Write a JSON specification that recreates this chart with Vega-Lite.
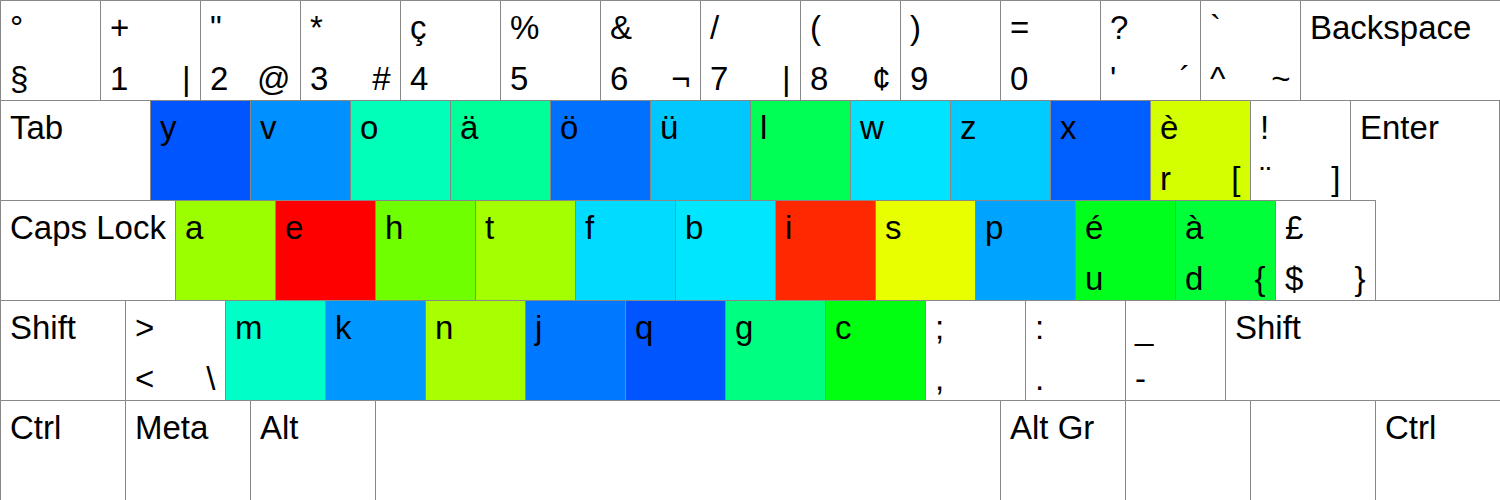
{
  "$schema": "https://vega.github.io/schema/vega-lite/v6.json",
  "width": 1499,
  "height": 499,
  "autosize": "none",
  "padding": {"left": 0, "top": 0, "right": 1, "bottom": 1},
  "background": "white",
  "config": {"view": {"stroke": "#888888", "strokeWidth": 1}},
  "datasets": {
    "keys": [
      {"x0": 0, "x1": 1, "y0": 0, "y1": 1, "tl": "°", "bl": "§", "br": "", "heat": "none"},
      {"x0": 1, "x1": 2, "y0": 0, "y1": 1, "tl": "+", "bl": "1", "br": "|", "heat": "none"},
      {"x0": 2, "x1": 3, "y0": 0, "y1": 1, "tl": "\"", "bl": "2", "br": "@", "heat": "none"},
      {"x0": 3, "x1": 4, "y0": 0, "y1": 1, "tl": "*", "bl": "3", "br": "#", "heat": "none"},
      {"x0": 4, "x1": 5, "y0": 0, "y1": 1, "tl": "ç", "bl": "4", "br": "", "heat": "none"},
      {"x0": 5, "x1": 6, "y0": 0, "y1": 1, "tl": "%", "bl": "5", "br": "", "heat": "none"},
      {"x0": 6, "x1": 7, "y0": 0, "y1": 1, "tl": "&", "bl": "6", "br": "¬", "heat": "none"},
      {"x0": 7, "x1": 8, "y0": 0, "y1": 1, "tl": "/", "bl": "7", "br": "|", "heat": "none"},
      {"x0": 8, "x1": 9, "y0": 0, "y1": 1, "tl": "(", "bl": "8", "br": "¢", "heat": "none"},
      {"x0": 9, "x1": 10, "y0": 0, "y1": 1, "tl": ")", "bl": "9", "br": "", "heat": "none"},
      {"x0": 10, "x1": 11, "y0": 0, "y1": 1, "tl": "=", "bl": "0", "br": "", "heat": "none"},
      {"x0": 11, "x1": 12, "y0": 0, "y1": 1, "tl": "?", "bl": "'", "br": "´", "heat": "none"},
      {"x0": 12, "x1": 13, "y0": 0, "y1": 1, "tl": "`", "bl": "^", "br": "~", "heat": "none"},
      {"x0": 13, "x1": 15, "y0": 0, "y1": 1, "tl": "Backspace", "bl": "", "br": "", "heat": "none"},
      {"x0": 0, "x1": 1.5, "y0": 1, "y1": 2, "tl": "Tab", "bl": "", "br": "", "heat": "none"},
      {"x0": 1.5, "x1": 2.5, "y0": 1, "y1": 2, "tl": "y", "bl": "", "br": "", "heat": "y"},
      {"x0": 2.5, "x1": 3.5, "y0": 1, "y1": 2, "tl": "v", "bl": "", "br": "", "heat": "v"},
      {"x0": 3.5, "x1": 4.5, "y0": 1, "y1": 2, "tl": "o", "bl": "", "br": "", "heat": "o"},
      {"x0": 4.5, "x1": 5.5, "y0": 1, "y1": 2, "tl": "ä", "bl": "", "br": "", "heat": "ä"},
      {"x0": 5.5, "x1": 6.5, "y0": 1, "y1": 2, "tl": "ö", "bl": "", "br": "", "heat": "ö"},
      {"x0": 6.5, "x1": 7.5, "y0": 1, "y1": 2, "tl": "ü", "bl": "", "br": "", "heat": "ü"},
      {"x0": 7.5, "x1": 8.5, "y0": 1, "y1": 2, "tl": "l", "bl": "", "br": "", "heat": "l"},
      {"x0": 8.5, "x1": 9.5, "y0": 1, "y1": 2, "tl": "w", "bl": "", "br": "", "heat": "w"},
      {"x0": 9.5, "x1": 10.5, "y0": 1, "y1": 2, "tl": "z", "bl": "", "br": "", "heat": "z"},
      {"x0": 10.5, "x1": 11.5, "y0": 1, "y1": 2, "tl": "x", "bl": "", "br": "", "heat": "x"},
      {"x0": 11.5, "x1": 12.5, "y0": 1, "y1": 2, "tl": "è", "bl": "r", "br": "[", "heat": "r"},
      {"x0": 12.5, "x1": 13.5, "y0": 1, "y1": 2, "tl": "!", "bl": "¨", "br": "]", "heat": "none"},
      {"x0": 13.5, "x1": 15, "y0": 1, "y1": 2, "tl": "Enter", "bl": "", "br": "", "heat": "enter"},
      {"x0": 0, "x1": 1.75, "y0": 2, "y1": 3, "tl": "Caps Lock", "bl": "", "br": "", "heat": "none"},
      {"x0": 1.75, "x1": 2.75, "y0": 2, "y1": 3, "tl": "a", "bl": "", "br": "", "heat": "a"},
      {"x0": 2.75, "x1": 3.75, "y0": 2, "y1": 3, "tl": "e", "bl": "", "br": "", "heat": "e"},
      {"x0": 3.75, "x1": 4.75, "y0": 2, "y1": 3, "tl": "h", "bl": "", "br": "", "heat": "h"},
      {"x0": 4.75, "x1": 5.75, "y0": 2, "y1": 3, "tl": "t", "bl": "", "br": "", "heat": "t"},
      {"x0": 5.75, "x1": 6.75, "y0": 2, "y1": 3, "tl": "f", "bl": "", "br": "", "heat": "f"},
      {"x0": 6.75, "x1": 7.75, "y0": 2, "y1": 3, "tl": "b", "bl": "", "br": "", "heat": "b"},
      {"x0": 7.75, "x1": 8.75, "y0": 2, "y1": 3, "tl": "i", "bl": "", "br": "", "heat": "i"},
      {"x0": 8.75, "x1": 9.75, "y0": 2, "y1": 3, "tl": "s", "bl": "", "br": "", "heat": "s"},
      {"x0": 9.75, "x1": 10.75, "y0": 2, "y1": 3, "tl": "p", "bl": "", "br": "", "heat": "p"},
      {"x0": 10.75, "x1": 11.75, "y0": 2, "y1": 3, "tl": "é", "bl": "u", "br": "", "heat": "u"},
      {"x0": 11.75, "x1": 12.75, "y0": 2, "y1": 3, "tl": "à", "bl": "d", "br": "{", "heat": "d"},
      {"x0": 12.75, "x1": 13.75, "y0": 2, "y1": 3, "tl": "£", "bl": "$", "br": "}", "heat": "none"},
      {"x0": 0, "x1": 1.25, "y0": 3, "y1": 4, "tl": "Shift", "bl": "", "br": "", "heat": "none"},
      {"x0": 1.25, "x1": 2.25, "y0": 3, "y1": 4, "tl": ">", "bl": "<", "br": "\\", "heat": "none"},
      {"x0": 2.25, "x1": 3.25, "y0": 3, "y1": 4, "tl": "m", "bl": "", "br": "", "heat": "m"},
      {"x0": 3.25, "x1": 4.25, "y0": 3, "y1": 4, "tl": "k", "bl": "", "br": "", "heat": "k"},
      {"x0": 4.25, "x1": 5.25, "y0": 3, "y1": 4, "tl": "n", "bl": "", "br": "", "heat": "n"},
      {"x0": 5.25, "x1": 6.25, "y0": 3, "y1": 4, "tl": "j", "bl": "", "br": "", "heat": "j"},
      {"x0": 6.25, "x1": 7.25, "y0": 3, "y1": 4, "tl": "q", "bl": "", "br": "", "heat": "q"},
      {"x0": 7.25, "x1": 8.25, "y0": 3, "y1": 4, "tl": "g", "bl": "", "br": "", "heat": "g"},
      {"x0": 8.25, "x1": 9.25, "y0": 3, "y1": 4, "tl": "c", "bl": "", "br": "", "heat": "c"},
      {"x0": 9.25, "x1": 10.25, "y0": 3, "y1": 4, "tl": ";", "bl": ",", "br": "", "heat": "none"},
      {"x0": 10.25, "x1": 11.25, "y0": 3, "y1": 4, "tl": ":", "bl": ".", "br": "", "heat": "none"},
      {"x0": 11.25, "x1": 12.25, "y0": 3, "y1": 4, "tl": "_", "bl": "-", "br": "", "heat": "none"},
      {"x0": 12.25, "x1": 15, "y0": 3, "y1": 4, "tl": "Shift", "bl": "", "br": "", "heat": "none"},
      {"x0": 0, "x1": 1.25, "y0": 4, "y1": 5, "tl": "Ctrl", "bl": "", "br": "", "heat": "none"},
      {"x0": 1.25, "x1": 2.5, "y0": 4, "y1": 5, "tl": "Meta", "bl": "", "br": "", "heat": "none"},
      {"x0": 2.5, "x1": 3.75, "y0": 4, "y1": 5, "tl": "Alt", "bl": "", "br": "", "heat": "none"},
      {"x0": 3.75, "x1": 10, "y0": 4, "y1": 5, "tl": "", "bl": "", "br": "", "heat": "none"},
      {"x0": 10, "x1": 11.25, "y0": 4, "y1": 5, "tl": "Alt Gr", "bl": "", "br": "", "heat": "none"},
      {"x0": 11.25, "x1": 12.5, "y0": 4, "y1": 5, "tl": "", "bl": "", "br": "", "heat": "none"},
      {"x0": 12.5, "x1": 13.75, "y0": 4, "y1": 5, "tl": "", "bl": "", "br": "", "heat": "none"},
      {"x0": 13.75, "x1": 15, "y0": 4, "y1": 5, "tl": "Ctrl", "bl": "", "br": "", "heat": "none"}
    ],
    "enter": [
      {"i": 0, "x": 13.5, "y": 1},
      {"i": 1, "x": 15, "y": 1},
      {"i": 2, "x": 15, "y": 3},
      {"i": 3, "x": 13.75, "y": 3},
      {"i": 4, "x": 13.75, "y": 2},
      {"i": 5, "x": 13.5, "y": 2},
      {"i": 6, "x": 13.5, "y": 1}
    ]
  },
  "layer": [
    {
      "data": {"name": "keys"},
      "transform": [{"filter": "datum.heat !== 'enter'"}],
      "mark": {"type": "rect", "stroke": "#888888", "strokeWidth": 1},
      "encoding": {
        "x": {"field": "x0", "type": "quantitative", "scale": {"domain": [0, 15], "range": [0.5, 1500.5], "nice": false, "zero": false}, "axis": null},
        "x2": {"field": "x1"},
        "y": {"field": "y0", "type": "quantitative", "scale": {"domain": [0, 5], "range": [0.5, 500.5], "nice": false, "zero": false}, "axis": null},
        "y2": {"field": "y1"},
        "color": {
          "field": "heat", "type": "nominal", "legend": null,
          "scale": {
            "domain": ["none", "y", "v", "o", "ä", "ö", "ü", "l", "w", "z", "x", "r", "a", "e", "h", "t", "f", "b", "i", "s", "p", "u", "d", "m", "k", "n", "j", "q", "g", "c"],
            "range": ["#ffffff", "#0055ff", "#0090ff", "#00ffb8", "#00ff98", "#0070ff", "#00c8ff", "#00ff55", "#00e4ff", "#00ccff", "#0060ff", "#d4ff00", "#9cff00", "#ff0000", "#70ff00", "#a4ff00", "#00dcff", "#00e6ff", "#ff2800", "#e8ff00", "#00a4ff", "#00ff1c", "#00ff38", "#00ffc8", "#0098ff", "#a8ff00", "#0078ff", "#0055ff", "#00ff80", "#00ff10"]
          }
        }
      }
    },
    {
      "data": {"name": "enter"},
      "mark": {"type": "line", "stroke": "#888888", "strokeWidth": 1, "strokeJoin": "miter", "strokeCap": "square"},
      "encoding": {
        "x": {"field": "x", "type": "quantitative", "scale": {"domain": [0, 15], "range": [0.5, 1500.5], "nice": false, "zero": false}, "axis": null},
        "y": {"field": "y", "type": "quantitative", "scale": {"domain": [0, 5], "range": [0.5, 500.5], "nice": false, "zero": false}, "axis": null},
        "order": {"field": "i", "type": "quantitative"}
      }
    },
    {
      "data": {"name": "keys"},
      "mark": {"type": "text", "align": "left", "baseline": "alphabetic", "dx": 9.5, "dy": 38.5, "font": "Liberation Sans", "fontSize": 33, "fill": "#000000"},
      "encoding": {
        "x": {"field": "x0", "type": "quantitative", "scale": {"domain": [0, 15], "range": [0.5, 1500.5], "nice": false, "zero": false}, "axis": null},
        "y": {"field": "y0", "type": "quantitative", "scale": {"domain": [0, 5], "range": [0.5, 500.5], "nice": false, "zero": false}, "axis": null},
        "text": {"field": "tl", "type": "nominal"}
      }
    },
    {
      "data": {"name": "keys"},
      "mark": {"type": "text", "align": "left", "baseline": "alphabetic", "dx": 9.5, "dy": 89, "font": "Liberation Sans", "fontSize": 33, "fill": "#000000"},
      "encoding": {
        "x": {"field": "x0", "type": "quantitative", "scale": {"domain": [0, 15], "range": [0.5, 1500.5], "nice": false, "zero": false}, "axis": null},
        "y": {"field": "y0", "type": "quantitative", "scale": {"domain": [0, 5], "range": [0.5, 500.5], "nice": false, "zero": false}, "axis": null},
        "text": {"field": "bl", "type": "nominal"}
      }
    },
    {
      "data": {"name": "keys"},
      "mark": {"type": "text", "align": "right", "baseline": "alphabetic", "dx": -10, "dy": 89, "font": "Liberation Sans", "fontSize": 33, "fill": "#000000"},
      "encoding": {
        "x": {"field": "x1", "type": "quantitative", "scale": {"domain": [0, 15], "range": [0.5, 1500.5], "nice": false, "zero": false}, "axis": null},
        "y": {"field": "y0", "type": "quantitative", "scale": {"domain": [0, 5], "range": [0.5, 500.5], "nice": false, "zero": false}, "axis": null},
        "text": {"field": "br", "type": "nominal"}
      }
    }
  ]
}
